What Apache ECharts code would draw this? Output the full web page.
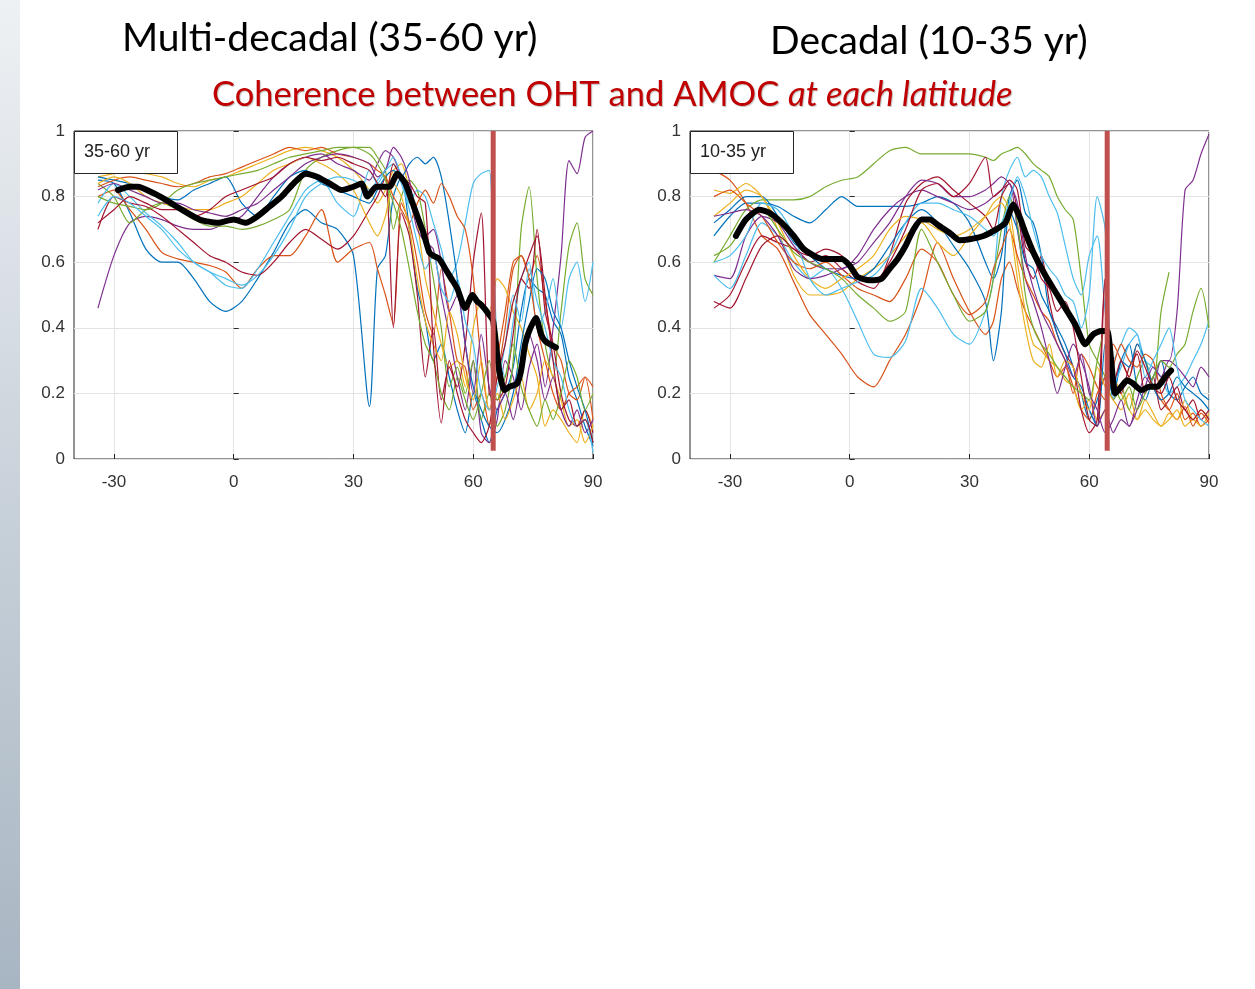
<!DOCTYPE html>
<html>
<head>
<meta charset="utf-8">
<script src="https://cdn.jsdelivr.net/npm/echarts@6/dist/echarts.min.js"></script>
<style>
  html, body { margin: 0; padding: 0; background: #fff; }
  #strip { position: absolute; left: 0; top: 0; width: 20px; height: 989px;
           background: linear-gradient(#eef1f4, #c9d2da 50%, #a8b5c2); }
  #chart { position: absolute; left: 0; top: 0; width: 1255px; height: 989px; }
</style>
</head>
<body>
<div id="strip"></div>
<div id="chart"></div>
<script>
// shared latitude grid for the model curves
const lat = [-34,-30,-26,-22,-18,-14,-10,-6,-2,2,6,10,14,18,22,26,30,34,
  36,38,40,42,44,46,48,50,52,54,56,58,60,62,64,66,68,70,72,74,76,78,80,82,84,86,88,90]

const xTicks = [-30, 0, 30, 60, 90]
const matlabColors = ['#0072BD','#D95319','#EDB120','#7E2F8E','#77AC30','#4DBEEE','#A2142F']

// ---- Multi-decadal (35-60 yr) ----
const md1  = [0.85,0.84,0.75,0.64,0.60,0.60,0.55,0.48,0.45,0.48,0.55,0.63,0.72,0.76,0.72,0.70,0.62,0.16,0.58,0.62,0.80,0.86,0.70,0.52,0.42,0.30,0.35,0.25,0.15,0.08,0.20,0.12,0.05,0.15,0.20,0.28,0.45,0.55,0.52,0.50,0.42,0.38,0.25,0.18,0.10,0.04]
const md2  = [0.80,0.82,0.76,0.70,0.63,0.61,0.60,0.59,0.57,0.52,0.58,0.62,0.62,0.68,0.76,0.60,0.64,0.66,0.58,0.50,0.41,0.78,0.72,0.60,0.45,0.38,0.58,0.45,0.30,0.28,0.15,0.20,0.10,0.30,0.45,0.60,0.62,0.56,0.62,0.48,0.35,0.30,0.20,0.18,0.25,0.12]
const md3  = [0.86,0.87,0.88,0.87,0.86,0.84,0.83,0.85,0.86,0.88,0.90,0.92,0.94,0.95,0.94,0.92,0.88,0.82,0.78,0.82,0.88,0.90,0.82,0.72,0.55,0.45,0.35,0.28,0.30,0.22,0.40,0.48,0.45,0.55,0.52,0.45,0.40,0.32,0.25,0.10,0.15,0.12,0.08,0.05,0.15,0.10]
const md4  = [0.46,0.62,0.72,0.74,0.73,0.71,0.70,0.70,0.72,0.74,0.80,0.86,0.90,0.92,0.93,0.90,0.88,0.85,0.90,0.94,0.92,0.86,0.80,0.70,0.66,0.64,0.50,0.38,0.25,0.15,0.30,0.08,0.05,0.12,0.30,0.25,0.15,0.28,0.35,0.22,0.40,0.62,0.91,0.87,0.98,1.00]
const md5  = [0.84,0.80,0.72,0.76,0.78,0.76,0.73,0.71,0.71,0.70,0.71,0.73,0.76,0.88,0.92,0.94,0.95,0.95,0.92,0.88,0.70,0.80,0.85,0.82,0.70,0.55,0.40,0.22,0.28,0.20,0.30,0.12,0.20,0.10,0.15,0.30,0.70,0.83,0.55,0.35,0.25,0.45,0.65,0.72,0.55,0.50]
const md6  = [0.78,0.84,0.80,0.75,0.71,0.66,0.60,0.57,0.53,0.52,0.58,0.66,0.74,0.82,0.85,0.78,0.74,0.88,0.84,0.88,0.92,0.86,0.78,0.82,0.80,0.72,0.64,0.55,0.60,0.72,0.84,0.87,0.88,0.35,0.25,0.42,0.55,0.60,0.40,0.45,0.55,0.40,0.55,0.60,0.48,0.60]
const md7  = [0.70,0.80,0.78,0.77,0.74,0.70,0.66,0.62,0.60,0.57,0.56,0.60,0.66,0.70,0.67,0.64,0.68,0.76,0.80,0.86,0.40,0.75,0.68,0.50,0.25,0.40,0.18,0.28,0.22,0.35,0.60,0.75,0.20,0.18,0.22,0.38,0.55,0.52,0.70,0.45,0.35,0.20,0.12,0.10,0.15,0.08]
const md8  = [0.86,0.85,0.84,0.82,0.80,0.79,0.82,0.84,0.86,0.78,0.74,0.80,0.86,0.88,0.84,0.82,0.80,0.78,0.82,0.86,0.88,0.86,0.90,0.92,0.90,0.92,0.86,0.72,0.55,0.35,0.22,0.15,0.10,0.08,0.12,0.20,0.35,0.48,0.58,0.55,0.45,0.40,0.30,0.22,0.15,0.05]
const md9  = [0.83,0.85,0.86,0.85,0.84,0.83,0.84,0.86,0.87,0.89,0.91,0.93,0.95,0.94,0.95,0.93,0.92,0.90,0.88,0.86,0.80,0.76,0.72,0.78,0.82,0.78,0.84,0.80,0.74,0.70,0.55,0.30,0.15,0.25,0.40,0.58,0.62,0.55,0.40,0.30,0.20,0.15,0.20,0.22,0.25,0.22]
const md10 = [0.84,0.86,0.84,0.80,0.78,0.77,0.76,0.76,0.78,0.80,0.84,0.88,0.90,0.92,0.90,0.87,0.82,0.72,0.68,0.74,0.84,0.80,0.70,0.55,0.42,0.35,0.30,0.45,0.38,0.25,0.18,0.30,0.15,0.20,0.12,0.18,0.25,0.15,0.20,0.30,0.25,0.18,0.10,0.12,0.05,0.10]
const md11 = [0.82,0.84,0.82,0.80,0.78,0.78,0.76,0.75,0.74,0.76,0.78,0.82,0.86,0.90,0.92,0.93,0.92,0.90,0.86,0.88,0.95,0.92,0.85,0.72,0.68,0.70,0.60,0.45,0.50,0.35,0.20,0.38,0.22,0.15,0.20,0.12,0.25,0.38,0.30,0.18,0.25,0.15,0.10,0.15,0.08,0.12]
const md12 = [0.80,0.78,0.77,0.76,0.78,0.82,0.84,0.85,0.86,0.87,0.88,0.90,0.92,0.93,0.94,0.95,0.95,0.93,0.90,0.85,0.78,0.70,0.58,0.45,0.35,0.30,0.20,0.15,0.25,0.18,0.12,0.20,0.30,0.18,0.25,0.35,0.22,0.15,0.10,0.18,0.12,0.20,0.30,0.25,0.15,0.20]
const md13 = [0.74,0.80,0.78,0.74,0.70,0.64,0.60,0.57,0.55,0.53,0.56,0.62,0.70,0.80,0.84,0.86,0.85,0.82,0.85,0.88,0.90,0.84,0.76,0.66,0.58,0.62,0.52,0.48,0.55,0.42,0.35,0.20,0.15,0.22,0.35,0.50,0.42,0.58,0.48,0.40,0.30,0.25,0.15,0.10,0.12,0.02]
const md14 = [0.72,0.76,0.80,0.78,0.76,0.76,0.74,0.76,0.80,0.82,0.84,0.86,0.90,0.92,0.91,0.92,0.90,0.88,0.84,0.80,0.90,0.86,0.84,0.80,0.78,0.35,0.11,0.30,0.20,0.12,0.08,0.05,0.10,0.25,0.35,0.48,0.55,0.62,0.68,0.50,0.30,0.15,0.18,0.10,0.12,0.05]
const mdMeanLat = [-29,-26,-24,-20,-17,-13,-8.5,-4,0,3,6,9,12,15,18,21,24,27,30,32,33.5,35.7,39,41,43,44.5,46,47.5,49,50,51.5,53,54.5,56,58,59.8,61,62,64,65,66.5,67.8,69,71,72,73,74,75.7,77,78,80.7]
const mdMean = [0.82,0.83,0.83,0.81,0.79,0.76,0.73,0.72,0.73,0.72,0.74,0.77,0.80,0.84,0.87,0.86,0.84,0.82,0.83,0.84,0.80,0.83,0.83,0.87,0.84,0.79,0.74,0.69,0.63,0.62,0.61,0.58,0.55,0.52,0.46,0.50,0.48,0.47,0.44,0.42,0.27,0.21,0.22,0.23,0.27,0.35,0.39,0.43,0.38,0.36,0.34]

// ---- Decadal (10-35 yr) ----
const d1  = [0.68,0.74,0.78,0.78,0.77,0.74,0.72,0.76,0.80,0.77,0.77,0.77,0.77,0.78,0.80,0.78,0.72,0.60,0.55,0.62,0.80,0.85,0.75,0.72,0.62,0.45,0.40,0.35,0.28,0.20,0.12,0.18,0.25,0.20,0.30,0.35,0.22,0.18,0.25,0.30,0.20,0.18,0.22,0.25,0.20,0.18]
const d2  = [0.88,0.85,0.78,0.68,0.64,0.54,0.44,0.38,0.32,0.25,0.22,0.30,0.38,0.50,0.66,0.55,0.45,0.38,0.42,0.55,0.60,0.52,0.45,0.40,0.35,0.30,0.25,0.28,0.22,0.15,0.12,0.20,0.25,0.35,0.30,0.25,0.35,0.30,0.22,0.18,0.15,0.20,0.12,0.14,0.10,0.12]
const d3  = [0.82,0.81,0.84,0.80,0.70,0.56,0.50,0.50,0.51,0.55,0.58,0.62,0.68,0.72,0.66,0.62,0.68,0.74,0.78,0.80,0.76,0.60,0.45,0.35,0.33,0.30,0.28,0.24,0.22,0.15,0.18,0.12,0.15,0.25,0.20,0.15,0.12,0.18,0.14,0.10,0.12,0.15,0.10,0.12,0.10,0.14]
const d4  = [0.56,0.55,0.68,0.74,0.72,0.65,0.60,0.58,0.58,0.62,0.70,0.76,0.80,0.82,0.80,0.78,0.76,0.78,0.80,0.82,0.84,0.70,0.55,0.48,0.40,0.30,0.20,0.28,0.35,0.30,0.22,0.10,0.15,0.08,0.12,0.10,0.18,0.25,0.22,0.30,0.30,0.45,0.82,0.85,0.93,0.99]
const d5  = [0.60,0.68,0.76,0.79,0.79,0.79,0.80,0.83,0.85,0.86,0.90,0.94,0.95,0.93,0.93,0.93,0.93,0.92,0.91,0.93,0.94,0.95,0.93,0.90,0.88,0.86,0.80,0.76,0.73,0.55,0.35,0.30,0.25,0.18,0.22,0.15,0.25,0.30,0.22,0.45,0.57,null,null,null,null,null]
const d6  = [0.56,0.52,0.62,0.72,0.68,0.60,0.55,0.58,0.52,0.42,0.32,0.31,0.36,0.52,0.46,0.38,0.35,0.45,0.55,0.80,0.88,0.92,0.86,0.88,0.86,0.80,0.75,0.65,0.55,0.50,0.62,0.68,0.45,0.30,0.35,0.40,0.38,0.30,0.28,0.25,0.20,0.22,0.25,0.30,0.35,0.42]
const d7  = [0.46,0.50,0.60,0.68,0.66,0.64,0.60,0.62,0.58,0.54,0.52,0.62,0.78,0.84,0.86,0.82,0.78,0.74,0.70,0.80,0.84,0.76,0.60,0.55,0.62,0.48,0.38,0.32,0.28,0.15,0.08,0.12,0.55,0.25,0.20,0.28,0.32,0.20,0.25,0.15,0.18,0.22,0.15,0.18,0.12,0.15]
const d8  = [0.72,0.76,0.80,0.80,0.74,0.66,0.62,0.58,0.56,0.55,0.58,0.65,0.72,0.76,0.72,0.65,0.58,0.48,0.30,0.45,0.76,0.70,0.60,0.58,0.50,0.45,0.38,0.32,0.25,0.22,0.15,0.10,0.35,0.18,0.30,0.28,0.35,0.30,0.22,0.18,0.20,0.25,0.22,0.20,0.18,0.15]
const d9  = [0.80,0.82,0.78,0.74,0.66,0.60,0.58,0.60,0.56,0.52,0.50,0.48,0.55,0.64,0.60,0.50,0.44,0.48,0.58,0.64,0.70,0.62,0.55,0.50,0.45,0.42,0.35,0.30,0.20,0.32,0.28,0.22,0.18,0.28,0.35,0.30,0.28,0.32,0.30,0.20,0.15,0.12,0.16,0.10,0.14,0.11]
const d10 = [0.74,0.78,0.82,0.80,0.72,0.62,0.55,0.52,0.55,0.58,0.62,0.70,0.74,0.73,0.70,0.68,0.70,0.74,0.76,0.78,0.72,0.55,0.40,0.30,0.28,0.35,0.25,0.30,0.28,0.20,0.15,0.28,0.22,0.18,0.15,0.20,0.12,0.15,0.12,0.10,0.14,0.12,0.18,0.12,0.15,0.12]
const d11 = [0.74,0.75,0.76,0.74,0.68,0.58,0.55,0.56,0.58,0.60,0.66,0.72,0.80,0.85,0.84,0.80,0.80,0.82,0.84,0.86,0.84,0.78,0.62,0.52,0.45,0.40,0.35,0.30,0.25,0.32,0.20,0.15,0.08,0.12,0.18,0.10,0.15,0.22,0.28,0.25,0.30,0.28,0.25,0.22,0.28,0.25]
const d12 = [0.62,0.65,0.72,0.76,0.70,0.63,0.60,0.58,0.55,0.50,0.46,0.42,0.45,0.70,0.60,0.50,0.42,0.45,0.55,0.70,0.80,0.72,0.50,0.40,0.35,0.32,0.28,0.25,0.22,0.20,0.18,0.30,0.40,0.25,0.18,0.22,0.15,0.20,0.25,0.30,0.28,0.32,0.35,0.45,0.52,0.40]
const d13 = [0.60,0.62,0.68,0.78,0.76,0.68,0.55,0.50,0.52,0.54,0.56,0.62,0.72,0.78,0.78,0.76,0.74,0.70,0.68,0.72,0.78,0.86,0.80,0.70,0.62,0.58,0.55,0.50,0.48,0.40,0.50,0.80,0.70,0.22,0.28,0.35,0.38,0.25,0.30,0.35,0.40,0.28,0.18,0.15,0.12,0.10]
const d14 = [0.48,0.46,0.55,0.65,0.68,0.64,0.62,0.64,0.62,0.56,0.54,0.60,0.70,0.82,0.84,0.80,0.84,0.92,0.80,0.82,0.85,0.82,0.65,0.62,0.55,0.52,0.45,0.48,0.40,0.25,0.12,0.10,0.55,0.22,0.30,0.25,0.33,0.28,0.22,0.20,0.25,0.18,0.15,0.12,0.15,0.12]
const dMeanLat = [-28.5,-26,-22.7,-20,-17,-14,-11.5,-7,-2,0,2,5,8,10,12,14,16,18,20,22.5,25,27.5,30,33.5,36.7,39,41,42.5,44,46,49,51.5,54,56.5,59,61,63,64.5,65.5,66.5,68,69.5,71,73,75,77,79,80.5]
const dMean = [0.68,0.73,0.76,0.75,0.72,0.68,0.64,0.61,0.61,0.59,0.555,0.545,0.55,0.58,0.61,0.65,0.70,0.73,0.73,0.71,0.69,0.667,0.67,0.68,0.70,0.72,0.776,0.74,0.69,0.63,0.56,0.51,0.46,0.41,0.35,0.38,0.39,0.39,0.30,0.20,0.22,0.24,0.23,0.21,0.22,0.22,0.25,0.27]

const panels = [
  { label: '35-60 yr', lines: [md1,md2,md3,md4,md5,md6,md7,md8,md9,md10,md11,md12,md13,md14],
    meanLat: mdMeanLat, mean: mdMean, divide: 65, left: 74 },
  { label: '10-35 yr', lines: [d1,d2,d3,d4,d5,d6,d7,d8,d9,d10,d11,d12,d13,d14],
    meanLat: dMeanLat, mean: dMean, divide: 64.5, left: 690 }
]

const axisColor = '#262626'
const labelFont = { color: '#333', fontSize: 17, fontFamily: 'Liberation Sans, Arial, sans-serif' }
const headFont = { fontFamily: 'Lato', fontWeight: 'normal', fontSize: 39, color: '#000' }
const redFont = { fontFamily: 'Lato', fontWeight: 'normal', fontSize: 34.5, color: '#c00000',
  textShadowColor: 'rgba(0,0,0,0.25)', textShadowOffsetX: 1, textShadowOffsetY: 1, textShadowBlur: 1 }

const grids = []
const xAxes = []
const yAxes = []
const series = []
const titles = [
  { text: 'Multi-decadal (35-60 yr)', left: 117, top: 14, textStyle: headFont },
  { text: 'Decadal (10-35 yr)', left: 765, top: 17, textStyle: headFont },
  { text: '{n|Coherence between OHT and AMOC }{i|at each latitude}', left: 207, top: 72,
    textStyle: { fontWeight: 'normal', rich: { n: redFont, i: { ...redFont, fontStyle: 'italic' } } } }
]

panels.forEach((p, k) => {
  grids.push({ left: p.left, top: 131, width: 519, height: 328, show: true,
    borderColor: axisColor, borderWidth: 1, backgroundColor: '#fff' })
  xAxes.push({ type: 'value', gridIndex: k, min: -40, max: 90,
    axisLine: { show: false },
    axisTick: { show: true, inside: true, length: 5, customValues: xTicks, lineStyle: { color: axisColor } },
    axisLabel: { ...labelFont, margin: 15, customValues: xTicks },
    splitLine: { show: true, lineStyle: { color: '#e3e3e3' } } })
  yAxes.push({ type: 'value', gridIndex: k, min: 0, max: 1, interval: 0.2,
    axisLine: { show: false },
    axisTick: { show: true, inside: true, length: 5, lineStyle: { color: axisColor } },
    axisLabel: { ...labelFont, margin: 9 },
    splitLine: { show: true, lineStyle: { color: '#e3e3e3' } } })

  p.lines.forEach((vals, i) => {
    series.push({ type: 'line', xAxisIndex: k, yAxisIndex: k, symbol: 'none', silent: true,
      smooth: 0.25,
      data: lat.map((x, j) => [x, vals[j]]),
      lineStyle: { width: 1.2, color: matlabColors[i % 7] } })
  })
  series.push({ type: 'line', xAxisIndex: k, yAxisIndex: k, symbol: 'none', silent: true, z: 5,
    smooth: 0.2,
    data: p.meanLat.map((x, j) => [x, p.mean[j]]),
    lineStyle: { width: 6, color: '#000', join: 'round', cap: 'round' } })
  // red divider at the Greenland-Scotland latitude
  series.push({ type: 'line', xAxisIndex: k, yAxisIndex: k, symbol: 'none', silent: true, z: 6,
    data: [[p.divide, 1], [p.divide, 0.025]],
    lineStyle: { width: 5, color: '#c0504d' } })

  titles.push({ text: p.label, left: p.left, top: 131,
    backgroundColor: '#fff', borderColor: axisColor, borderWidth: 1,
    padding: [12, 28, 13, 10],
    textStyle: { fontFamily: 'Liberation Sans, Arial, sans-serif', fontWeight: 'normal', fontSize: 18, color: '#222' } })
})

const chart = echarts.init(document.getElementById('chart'))
chart.setOption({
  animation: false,
  title: titles,
  grid: grids,
  xAxis: xAxes,
  yAxis: yAxes,
  series: series
})
</script>
</body>
</html>
